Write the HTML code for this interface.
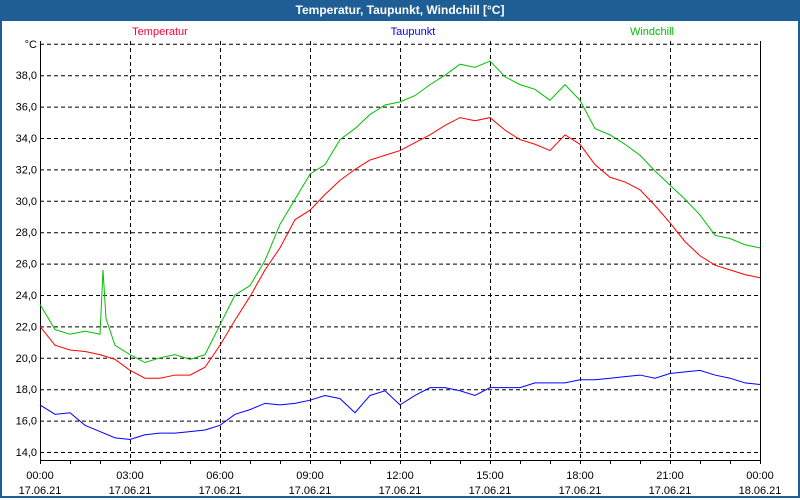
<!DOCTYPE html>
<html><head><meta charset="utf-8"><style>
body{margin:0;width:800px;height:500px;overflow:hidden;font-family:"Liberation Sans",sans-serif;}
#wrap{position:absolute;left:0;top:0;width:796px;height:496px;border:2px solid #1f5e95;border-top:none;background:#fff;}
#title{position:absolute;left:0;top:0;width:800px;height:21px;background:#1f5e95;color:#fff;font-weight:bold;font-size:12px;line-height:21px;text-align:center;}
svg{position:absolute;left:0;top:0}
</style></head><body>
<div id="wrap"></div>
<div id="title">Temperatur, Taupunkt, Windchill [°C]</div>
<svg id="c" width="800" height="500"></svg>
<script>
const xTimes=[0,0.5,1,1.5,2,2.5,3,3.5,4,4.5,5,5.5,6,6.5,7,7.5,8,8.5,9,9.5,10,10.5,11,11.5,12,12.5,13,13.5,14,14.5,15,15.5,16,16.5,17,17.5,18,18.5,19,19.5,20,20.5,21,21.5,22,22.5,23,23.5,24];
const windTimes=[0,0.5,1,1.5,2,2.1,2.2,2.5,3,3.5,4,4.5,5,5.5,6,6.5,7,7.5,8,8.5,9,9.5,10,10.5,11,11.5,12,12.5,13,13.5,14,14.5,15,15.5,16,16.5,17,17.5,18,18.5,19,19.5,20,20.5,21,21.5,22,22.5,23,23.5,24];
const temperatur=[22.0,20.8,20.5,20.4,20.2,19.9,19.2,18.7,18.7,18.9,18.9,19.4,20.8,22.4,23.9,25.6,27.0,28.8,29.4,30.4,31.3,32.0,32.6,32.9,33.2,33.7,34.2,34.8,35.3,35.1,35.3,34.5,33.9,33.6,33.2,34.2,33.6,32.3,31.5,31.2,30.7,29.7,28.6,27.4,26.5,25.9,25.6,25.3,25.1];
const windchill=[23.4,21.8,21.5,21.7,21.5,25.6,22.5,20.8,20.2,19.7,20.0,20.2,19.9,20.2,22.1,24.0,24.6,26.2,28.5,30.1,31.7,32.3,33.9,34.6,35.5,36.1,36.3,36.7,37.4,38.0,38.7,38.5,38.9,37.9,37.4,37.1,36.4,37.4,36.4,34.6,34.2,33.6,32.9,31.9,31.0,30.1,29.1,27.8,27.6,27.2,27.0];
const taupunkt=[17.0,16.4,16.5,15.7,15.3,14.9,14.8,15.1,15.2,15.2,15.3,15.4,15.7,16.4,16.7,17.1,17.0,17.1,17.3,17.6,17.4,16.5,17.6,17.9,17.0,17.6,18.1,18.1,17.9,17.6,18.1,18.1,18.1,18.4,18.4,18.4,18.6,18.6,18.7,18.8,18.9,18.7,19.0,19.1,19.2,18.9,18.7,18.4,18.3];
const yTicks=[14,16,18,20,22,24,26,28,30,32,34,36,38];
const xTickHours=[0,3,6,9,12,15,18,21,24];
const xTickLabels=["00:00","03:00","06:00","09:00","12:00","15:00","18:00","21:00","00:00"];
const xDateLabels=["17.06.21","17.06.21","17.06.21","17.06.21","17.06.21","17.06.21","17.06.21","17.06.21","18.06.21"];
const L=40,R=760,T=41,B=460;
const X=h=>L+h/24*(R-L);
const Y=v=>452-(v-14)*15.7;
const s=document.getElementById('c');const NS="http://www.w3.org/2000/svg";
function el(t,a,txt){const e=document.createElementNS(NS,t);for(const k in a)e.setAttribute(k,a[k]);if(txt!=null)e.textContent=txt;s.appendChild(e);return e;}
yTicks.concat([40]).forEach(v=>{const e=el('line',{x1:L,x2:R,y1:Y(v)+0.5,y2:Y(v)+0.5,stroke:'#000','stroke-dasharray':'4,3'});

});
xTickHours.forEach(h=>{if(h>0&&h<24){const e=el('line',{x1:X(h)+0.5,x2:X(h)+0.5,y1:T,y2:B,stroke:'#000','stroke-dasharray':'4,3'});

}});
const ax=el('path',{d:`M${L+0.5},${T} V${B+0.5} H${R+0.5} V${T}`,stroke:'#000',fill:'none'});


for(let h=0;h<=24;h++){const e=el('line',{x1:X(h)+0.5,x2:X(h)+0.5,y1:B,y2:B+4,stroke:'#000'});

}
yTicks.forEach(v=>{const e=el('text',{x:L-3,y:Y(v)+4,'text-anchor':'end','font-size':11,fill:'#000'},v.toFixed(1).replace('.',','));

});
const u=el('text',{x:L-3,y:Y(40)+4,'text-anchor':'end','font-size':11},'°C');


xTickHours.forEach((h,i)=>{const a=el('text',{x:X(h),y:479,'text-anchor':'middle','font-size':11},xTickLabels[i]);


const b=el('text',{x:X(h),y:494,'text-anchor':'middle','font-size':11},xDateLabels[i]);

});
function line(d,t,c,n){const p=el('polyline',{points:d.map((v,i)=>X(t[i])+','+Y(v)).join(' '),fill:'none',stroke:c,'stroke-width':1});

}
line(taupunkt,xTimes,'#0000ff','taupunkt-line');
line(temperatur,xTimes,'#ff0000','temperatur-line');
line(windchill,windTimes,'#00c000','windchill-line');
[['Temperatur','#ff0030',160,'legend-temperatur'],['Taupunkt','#0000ff',413,'legend-taupunkt'],['Windchill','#00c000',652,'legend-windchill']].forEach(l=>{
const e=el('text',{x:l[2],y:35,'text-anchor':'middle','font-size':11,fill:l[1]},l[0]);

});
</script>
</body></html>
